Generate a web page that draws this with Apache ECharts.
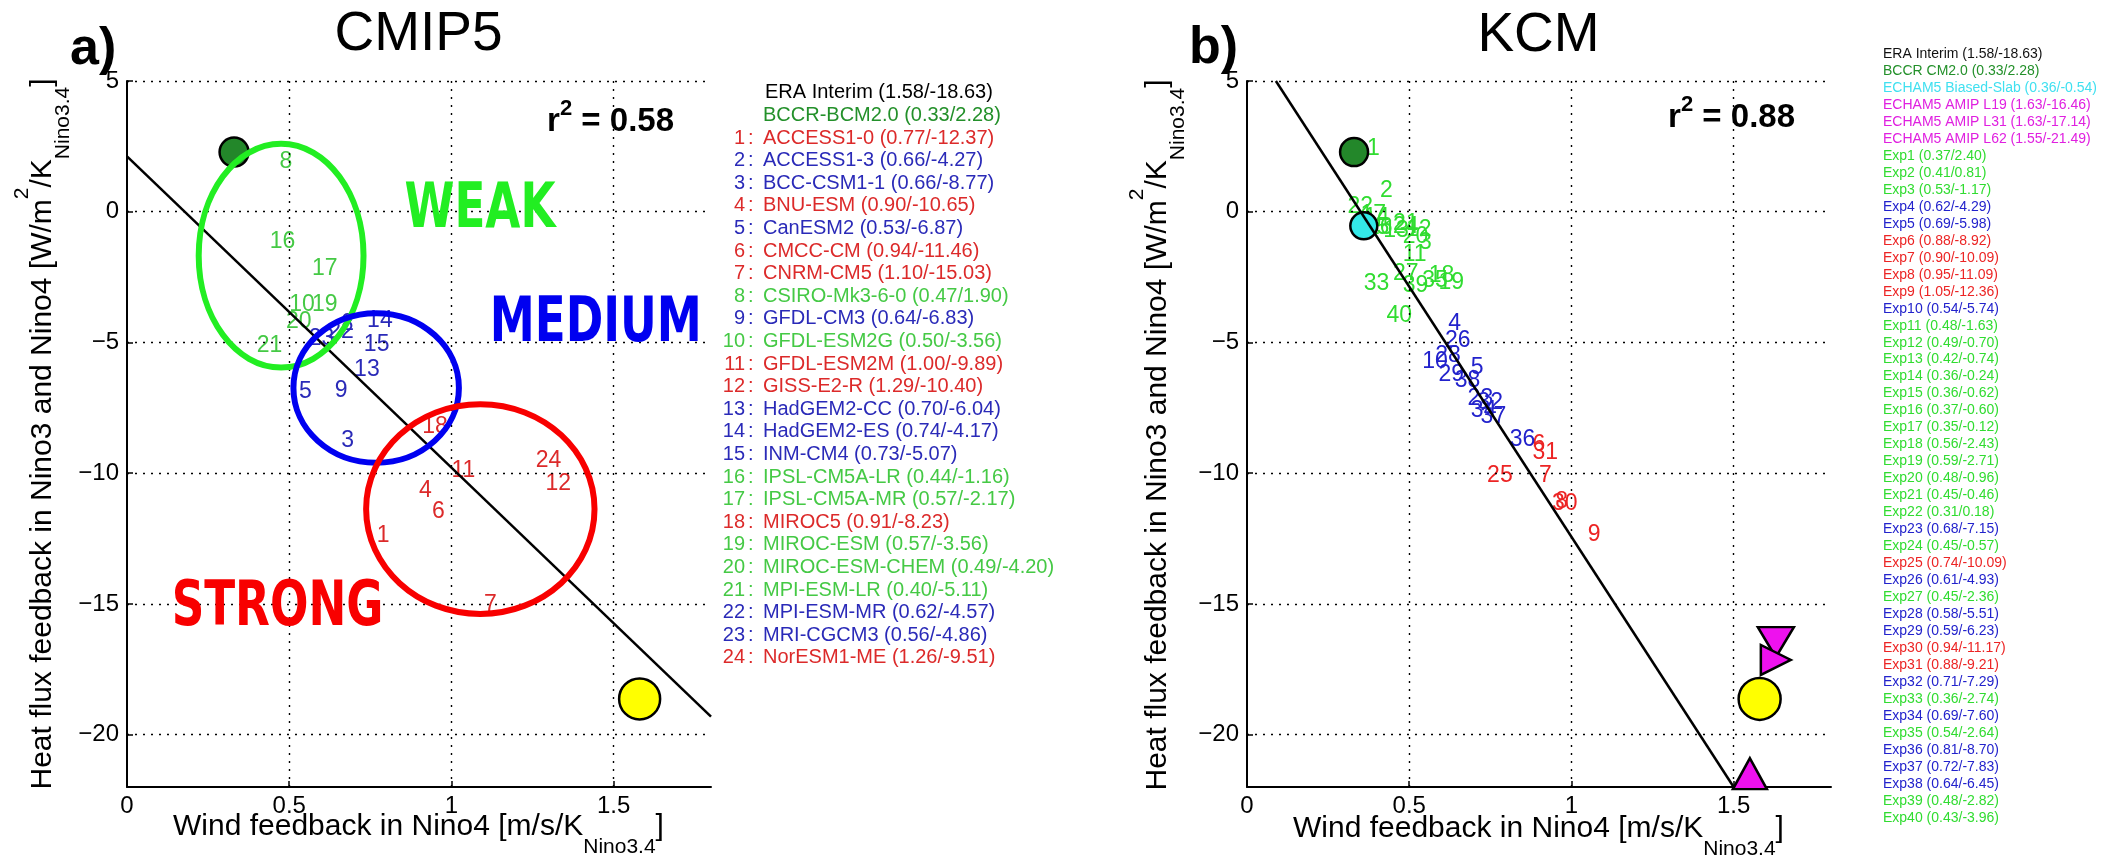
<!DOCTYPE html>
<html><head><meta charset="utf-8">
<script src="https://cdn.jsdelivr.net/npm/echarts@6/dist/echarts.min.js"></script>
<style>html,body{margin:0;padding:0;background:#fff}#c{width:2110px;height:856px}</style>
</head><body><div id="c"></div>
<script>
// ================= DATA =================
// Panel a) CMIP5 models: wind feedback (x), heat flux feedback (y), regime group
const cmipNames = ['ACCESS1-0','ACCESS1-3','BCC-CSM1-1','BNU-ESM','CanESM2','CMCC-CM','CNRM-CM5','CSIRO-Mk3-6-0','GFDL-CM3','GFDL-ESM2G','GFDL-ESM2M','GISS-E2-R','HadGEM2-CC','HadGEM2-ES','INM-CM4','IPSL-CM5A-LR','IPSL-CM5A-MR','MIROC5','MIROC-ESM','MIROC-ESM-CHEM','MPI-ESM-LR','MPI-ESM-MR','MRI-CGCM3','NorESM1-ME'];
const cmipX = [0.77,0.66,0.66,0.90,0.53,0.94,1.10,0.47,0.64,0.50,1.00,1.29,0.70,0.74,0.73,0.44,0.57,0.91,0.57,0.49,0.40,0.62,0.56,1.26];
const cmipY = [-12.37,-4.27,-8.77,-10.65,-6.87,-11.46,-15.03,1.90,-6.83,-3.56,-9.89,-10.40,-6.04,-4.17,-5.07,-1.16,-2.17,-8.23,-3.56,-4.20,-5.11,-4.57,-4.86,-9.51];
const cmipGroup = ['S','M','M','S','M','S','S','W','M','W','S','S','M','M','M','W','W','S','W','W','W','M','M','S'];
// reference markers panel a)
const cmipRefNames = ['ERA Interim','BCCR-BCM2.0'];
const cmipRefX = [1.58,0.33];
const cmipRefY = [-18.63,2.28];

// Panel b) KCM experiments
const kcmX = [0.37,0.41,0.53,0.62,0.69,0.88,0.90,0.95,1.05,0.54,0.48,0.49,0.42,0.36,0.36,0.37,0.35,0.56,0.59,0.48,0.45,0.31,0.68,0.45,0.74,0.61,0.45,0.58,0.59,0.94,0.88,0.71,0.36,0.69,0.54,0.81,0.72,0.64,0.48,0.43];
const kcmY = [2.40,0.81,-1.17,-4.29,-5.98,-8.92,-10.09,-11.09,-12.36,-5.74,-1.63,-0.70,-0.74,-0.24,-0.62,-0.60,-0.12,-2.43,-2.71,-0.96,-0.46,0.18,-7.15,-0.57,-10.09,-4.93,-2.36,-5.51,-6.23,-11.17,-9.21,-7.29,-2.74,-7.60,-2.64,-8.70,-7.83,-6.45,-2.82,-3.96];
const kcmGroup = ['W','W','W','M','M','S','S','S','S','M','W','W','W','W','W','W','W','W','W','W','W','W','M','W','S','M','W','M','M','S','S','M','W','M','W','M','M','M','W','W'];
// reference markers panel b)
const kcmRefNames = ['ERA Interim','BCCR CM2.0','ECHAM5 Biased-Slab','ECHAM5 AMIP L19','ECHAM5 AMIP L31','ECHAM5 AMIP L62'];
const kcmRefX = [1.58,0.33,0.36,1.63,1.63,1.55];
const kcmRefY = [-18.63,2.28,-0.54,-16.46,-17.14,-21.49];

// regression lines (end points) and r^2
const cmipFit = [[0,2.12],[1.8,-19.31]];
const kcmFit = [[0.089,5],[1.5,-22]];
const r2Values = ['0.58','0.88'];

// axis ticks
const xTicks = [0,0.5,1,1.5];
const yTicks = [5,0,-5,-10,-15,-20];

// regime annotation ellipses (data units) and labels, panel a)
const regimeNames = ['WEAK','MEDIUM','STRONG'];
const regimeCx = [0.475,0.768,1.089];
const regimeCy = [-1.68,-6.74,-11.37];
const regimeRx = [0.254,0.255,0.352];
const regimeRy = [4.28,2.86,4.01];
const regimeLabelX = [1.088,1.445,0.464];
const regimeLabelY = [0.04,-4.33,-15.19];

// ================= STYLE =================
const FONT = '"Liberation Sans", Arial, Helvetica, sans-serif';
const grpIdx = {W:0, M:1, S:2};
const leftCols = ['#45c945','#2a2ab8','#dc2a2a'];
const rightCols = ['#30dc30','#2222cc','#ec2424'];
const regimeCols = ['#22ee22','#0000f0','#f80000'];
const fmt = v => v.toFixed(2);

const chart = echarts.init(document.getElementById('c'));

function xAxisCfg(gi){
  return {type:'value', gridIndex:gi, min:0, max:1.8,
    axisLine:{show:true, onZero:false, lineStyle:{color:'#000', width:2}},
    axisTick:{show:true, inside:true, length:6, customValues:xTicks, lineStyle:{color:'#000', width:1.5}},
    axisLabel:{customValues:xTicks, formatter:v=>String(v), fontSize:24, fontFamily:FONT, color:'#000', margin:7},
    splitLine:{show:false}};
}
function yAxisCfg(gi){
  return {type:'value', gridIndex:gi, min:-22, max:5,
    axisLine:{show:true, onZero:false, lineStyle:{color:'#000', width:2}},
    axisTick:{show:true, inside:true, length:6, customValues:yTicks, lineStyle:{color:'#000', width:1.5}},
    axisLabel:{customValues:yTicks, formatter:v=> v<0 ? '\u2212'+(-v) : String(v), fontSize:24, fontFamily:FONT, color:'#000', margin:8},
    splitLine:{show:false}};
}
function gridSeries(gi){
  return {type:'scatter', xAxisIndex:gi, yAxisIndex:gi, data:[[0.9,-10]], symbolSize:0, silent:true, z:1,
    markLine:{silent:true, symbol:['none','none'], label:{show:false}, animation:false,
      lineStyle:{type:[2,6], color:'#000', width:1.4},
      emphasis:{disabled:true},
      data:[...xTicks.filter(v=>v>0).map(v=>({xAxis:v})), ...yTicks.map(v=>({yAxis:v}))]}};
}
function labelSeries(gi, xs, ys, groups, cols){
  return {type:'custom', xAxisIndex:gi, yAxisIndex:gi, z:3, silent:true, clip:false,
    encode:{x:0, y:1},
    data: xs.map((x,i)=>[x, ys[i], i+1, grpIdx[groups[i]]]),
    renderItem:(params, api)=>{
      const c = api.coord([api.value(0), api.value(1)]);
      return {type:'text', x:c[0], y:c[1], style:{text:String(api.value(2)), fill:cols[api.value(3)],
        fontSize:23, fontFamily:FONT, align:'left', verticalAlign:'middle'}};
    }};
}
function fitSeries(gi, pts){
  return {type:'line', xAxisIndex:gi, yAxisIndex:gi, data:pts, symbol:'none', showSymbol:false, silent:true, z:8,
    lineStyle:{color:'#000', width:2.5}};
}

const series = [];
// ---------- panel a ----------
series.push(gridSeries(0));
series.push(labelSeries(0, cmipX, cmipY, cmipGroup, leftCols));
series.push({type:'scatter', xAxisIndex:0, yAxisIndex:0, z:4, silent:true,
  data:[
    {value:[cmipRefX[1], cmipRefY[1]], symbol:'circle', symbolSize:29, itemStyle:{color:'#23872a'}},
    {value:[cmipRefX[0], cmipRefY[0]], symbol:'circle', symbolSize:41, itemStyle:{color:'#ffff00'}}
  ],
  itemStyle:{borderColor:'#000', borderWidth:2.5, opacity:1}});
series.push(fitSeries(0, cmipFit));
series.push({type:'custom', xAxisIndex:0, yAxisIndex:0, z:9, silent:true, clip:false, encode:{x:0,y:1},
  data: regimeCx.map((cx,i)=>[cx, regimeCy[i], regimeRx[i], regimeRy[i], i]),
  renderItem:(params, api)=>{
    const c = api.coord([api.value(0), api.value(1)]);
    const s = api.size([api.value(2), api.value(3)]);
    return {type:'ellipse', shape:{cx:c[0], cy:c[1], rx:s[0], ry:s[1]},
      style:{fill:'none', stroke:regimeCols[api.value(4)], lineWidth:6}};
  }});
series.push({type:'custom', xAxisIndex:0, yAxisIndex:0, z:10, silent:true, clip:false, encode:{x:0,y:1},
  data: regimeLabelX.map((x,i)=>[x, regimeLabelY[i], i]),
  renderItem:(params, api)=>{
    const c = api.coord([api.value(0), api.value(1)]);
    const i = api.value(2);
    return {type:'text', x:c[0], y:c[1], scaleX:0.73,
      style:{text:regimeNames[i], fill:regimeCols[i], fontSize:62, fontWeight:'bold',
        fontFamily:'"DejaVu Sans", "Liberation Sans", sans-serif', align:'center', verticalAlign:'middle'}};
  }});
// ---------- panel b ----------
series.push(gridSeries(1));
series.push(labelSeries(1, kcmX, kcmY, kcmGroup, rightCols));
series.push({type:'scatter', xAxisIndex:1, yAxisIndex:1, z:4, silent:true,
  data:[
    {value:[kcmRefX[1], kcmRefY[1]], symbol:'circle', symbolSize:28, itemStyle:{color:'#23872a'}},
    {value:[kcmRefX[2], kcmRefY[2]], symbol:'circle', symbolSize:27, itemStyle:{color:'#33e8e8'}},
    {value:[kcmRefX[3], kcmRefY[3]], symbol:'triangle', symbolRotate:180, symbolSize:[36,30], itemStyle:{color:'#ee11ee'}},
    {value:[kcmRefX[4], kcmRefY[4]], symbol:'triangle', symbolRotate:-90, symbolSize:[30,30], itemStyle:{color:'#ee11ee'}},
    {value:[kcmRefX[5], kcmRefY[5]], symbol:'triangle', symbolSize:[34,31], itemStyle:{color:'#ee11ee'}},
    {value:[kcmRefX[0], kcmRefY[0]], symbol:'circle', symbolSize:42, itemStyle:{color:'#ffff00'}}
  ],
  itemStyle:{borderColor:'#000', borderWidth:2.5, opacity:1}});
series.push(fitSeries(1, kcmFit));

// ================= GRAPHIC TEXT =================
function txt(x, y, text, color, size, align, extra){
  return Object.assign({type:'text', x:x, y:y, silent:true,
    style:Object.assign({text:text, fill:color, fontSize:size, fontFamily:FONT, align:align, verticalAlign:'middle'}, extra||{})});
}
const nameRich = {
  m:{fontSize:30, fontFamily:FONT, lineHeight:62, verticalAlign:'middle', fill:'#000'},
  sub:{fontSize:21, fontFamily:FONT, lineHeight:26, verticalAlign:'bottom', fill:'#000'},
  sup:{fontSize:21, fontFamily:FONT, lineHeight:30, verticalAlign:'top', fill:'#000'}
};
const xName = '{m|Wind feedback in Nino4 [m/s/K}{sub|Nino3.4}{m|]}';
const yName = '{m|Heat flux feedback in Nino3 and Nino4 [W/m}{sup|2}{m|/K}{sub|Nino3.4}{m|]}';
const r2Rich = {
  r:{fontSize:33, fontWeight:'bold', fontFamily:FONT, lineHeight:48, verticalAlign:'middle', fill:'#000'},
  s:{fontSize:22, fontWeight:'bold', fontFamily:FONT, lineHeight:20, verticalAlign:'top', fill:'#000'}
};
function richTxt(x, y, text, rich, align, rot){
  return {type:'text', x:x, y:y, rotation:rot||0, silent:true,
    style:{text:text, rich:rich, align:align, verticalAlign:'middle', fontFamily:FONT}};
}

const graphics = [];
// titles & panel letters
graphics.push(txt(418.5, 35, 'CMIP5', '#000', 55, 'center'));
graphics.push(txt(1538.5, 36, 'KCM', '#000', 55, 'center'));
graphics.push(txt(70, 50, 'a)', '#000', 52, 'left', {fontWeight:'bold'}));
graphics.push(txt(1189, 49, 'b)', '#000', 52, 'left', {fontWeight:'bold'}));
// r^2
graphics.push(richTxt(674, 122, '{r|r}{s|2}{r| = ' + r2Values[0] + '}', r2Rich, 'right'));
graphics.push(richTxt(1795, 118, '{r|r}{s|2}{r| = ' + r2Values[1] + '}', r2Rich, 'right'));
// axis names
graphics.push(richTxt(418.5, 827, xName, nameRich, 'center'));
graphics.push(richTxt(1538.5, 829, xName, nameRich, 'center'));
graphics.push(richTxt(42.4, 434, yName, nameRich, 'center', Math.PI/2));
graphics.push(richTxt(1157.5, 435, yName, nameRich, 'center', Math.PI/2));

// legend panel a
(function(){
  const y0 = 92.8, dy = 22.6, fs = 20;
  graphics.push(txt(765, y0, cmipRefNames[0] + ' (' + fmt(cmipRefX[0]) + '/' + fmt(cmipRefY[0]) + ')', '#000', fs, 'left'));
  graphics.push(txt(763, y0+dy, cmipRefNames[1] + ' (' + fmt(cmipRefX[1]) + '/' + fmt(cmipRefY[1]) + ')', '#23902a', fs, 'left'));
  cmipNames.forEach((n,i)=>{
    const y = y0 + (i+2)*dy, col = leftCols[grpIdx[cmipGroup[i]]];
    graphics.push(txt(745, y, String(i+1), col, fs, 'right'));
    graphics.push(txt(748, y, ':', col, fs, 'left'));
    graphics.push(txt(763, y, n + ' (' + fmt(cmipX[i]) + '/' + fmt(cmipY[i]) + ')', col, fs, 'left'));
  });
})();
// legend panel b
(function(){
  const y0 = 54, dy = 16.98, fs = 14, x0 = 1883;
  const refCols = ['#111111','#23902a','#40e0f0','#e020e0','#e020e0','#e020e0'];
  kcmRefNames.forEach((n,i)=>{
    graphics.push(txt(x0, y0 + i*dy, n + ' (' + fmt(kcmRefX[i]) + '/' + fmt(kcmRefY[i]) + ')', refCols[i], fs, 'left'));
  });
  kcmX.forEach((x,i)=>{
    graphics.push(txt(x0, y0 + (i+6)*dy, 'Exp' + (i+1) + ' (' + fmt(x) + '/' + fmt(kcmY[i]) + ')', rightCols[grpIdx[kcmGroup[i]]], fs, 'left'));
  });
})();

chart.setOption({
  animation:false,
  backgroundColor:'#fff',
  grid:[{left:127, top:81, width:584, height:706}, {left:1247, top:81, width:584, height:706}],
  xAxis:[xAxisCfg(0), xAxisCfg(1)],
  yAxis:[yAxisCfg(0), yAxisCfg(1)],
  series:series,
  graphic:graphics
});
</script>
</body></html>
